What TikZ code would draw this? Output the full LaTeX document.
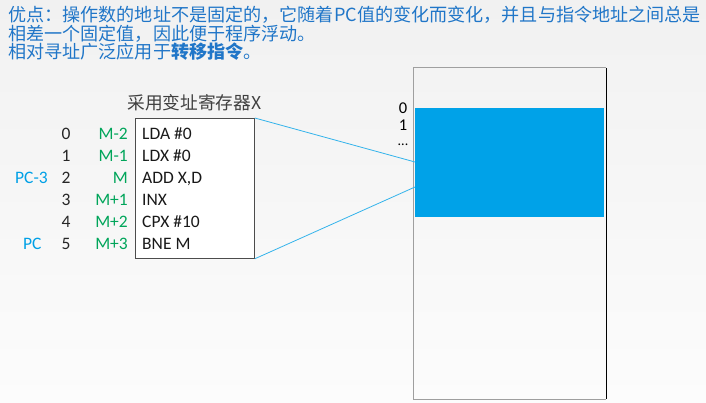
\documentclass[tikz,border=0pt]{standalone}
\usepackage{fontspec}
\setmainfont{Carlito}
\newfontfamily\cjk{Noto Sans CJK SC}
\definecolor{topblue}{RGB}{32,118,200}
\definecolor{lblue}{RGB}{0,160,230}
\definecolor{fillblue}{RGB}{0,162,232}
\definecolor{lgreen}{RGB}{0,165,90}
\definecolor{title}{RGB}{64,64,64}
\definecolor{bgtop}{RGB}{241,241,241}
\definecolor{bgbot}{RGB}{252,252,252}
\tikzset{
  toptext/.style={anchor=west, inner sep=0pt, text=topblue, font=\cjk\fontsize{18.1}{20}\selectfont},
  num/.style={anchor=base, inner sep=0pt, text=black!85, font=\fontsize{17.5}{20}\selectfont},
  mlab/.style={anchor=base east, inner sep=0pt, text=lgreen, font=\fontsize{17.5}{20}\selectfont},
  pclab/.style={anchor=base west, inner sep=0pt, text=lblue, font=\fontsize{17.5}{20}\selectfont},
  instr/.style={anchor=base west, inner sep=0pt, text=black!90, font=\fontsize{17.5}{20}\selectfont},
  link/.style={draw=lblue!80, line width=0.8pt},
}
\begin{document}
\begin{tikzpicture}[x=1pt,y=-1pt]
\useasboundingbox (0,0) rectangle (706,403);
\shade[top color=bgtop, bottom color=bgbot] (0,0) rectangle (706,403);
% top text
\node[toptext] (t1) at (8,15) {优点：操作数的地址不是固定的，它随着PC值的变化而变化，并且与指令地址之间总是};
\node[toptext] (t2) at (8,33.5) {相差一个固定值，因此便于程序浮动。};
\node[toptext] (t3) at (8,52) {相对寻址广泛应用于\textbf{转移指令}。};
% memory
\node[draw=none, fill=fillblue, minimum width=189pt, minimum height=109pt, inner sep=0pt, anchor=north west] (blk) at (415,108) {};
\draw[gray!75, line width=1pt] (606,68) -- (413,68) -- (413,399) -- (606,399);
\draw[black, line width=1pt] (606,68) -- (606,399);
\node[anchor=base, inner sep=0pt, font=\fontsize{16.5}{18}\selectfont] (m0) at (403,113.5) {0};
\node[anchor=base, inner sep=0pt, font=\fontsize{16.5}{18}\selectfont] (m1) at (403,130.5) {1};
\node[anchor=base, inner sep=0pt, font=\fontsize{14}{18}\selectfont] (m2) at (403,146) {...};
\coordinate (p1) at (415,162);
\coordinate (p2) at (415,187);
% code box
\node[draw=black!70, fill=white, line width=0.8pt, minimum width=119pt, minimum height=140pt, inner sep=0pt, anchor=north west] (code) at (135,118) {};
\node[anchor=base, inner sep=0pt, text=title, font=\cjk\fontsize{17.7}{20}\selectfont] (ttl) at (194.5,110) {采用变址寄存器X};
\draw[link] (code.north east) -- (p1);
\draw[link] (code.south east) -- (p2);
% rows
\foreach \i/\m/\ins [count=\k from 0] in {0/M-2/LDA \#0, 1/M-1/LDX \#0, 2/M/ADD X{,}D, 3/M+1/INX, 4/M+2/CPX \#10, 5/M+3/BNE M}{
  \pgfmathsetmacro\yy{140+21.8*\k}
  \node[num] (n\k) at (66,\yy) {\i};
  \node[mlab] (ml\k) at (128,\yy) {\m};
  \node[instr] (in\k) at (142,\yy) {\ins};
}
\node[pclab] (pc3) at (15,183.6) {PC-3};
\node[pclab] (pc) at (23,249) {PC};
\end{tikzpicture}
\end{document}
